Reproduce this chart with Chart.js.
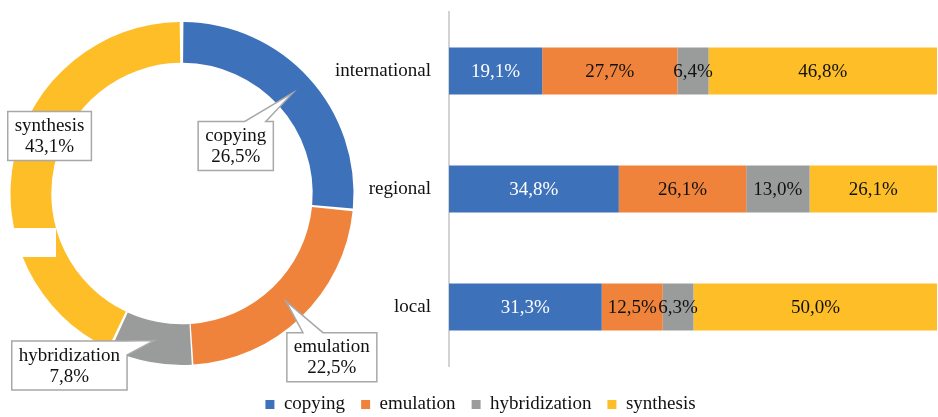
<!DOCTYPE html>
<html><head><meta charset="utf-8">
<script src="https://cdn.jsdelivr.net/npm/chart.js@4.4.0/dist/chart.umd.min.js"></script>
<style>
html,body{margin:0;padding:0;background:#fff;}
#wrap{position:relative;width:938px;height:417px;overflow:hidden;}
#bar{position:absolute;left:0;top:0;}
#pie{position:absolute;left:0;top:0;}
</style></head><body>
<div id="wrap">
<canvas id="bar" width="938" height="417"></canvas>
<canvas id="pie" width="380" height="400"></canvas>
</div>
<script>
// ---- data ----
const strategies = ['copying', 'emulation', 'hybridization', 'synthesis'];
const overallShares = [26.5, 22.5, 7.8, 43.1];
const levels = ['international', 'regional', 'local'];
const copyingByLevel = [19.1, 34.8, 31.3];
const emulationByLevel = [27.7, 26.1, 12.5];
const hybridizationByLevel = [6.4, 13.0, 6.3];
const synthesisByLevel = [46.8, 26.1, 50.0];
const valueAxisMax = 100;

// ---- style ----
const colors = ['#3D72BA', '#F0833C', '#9A9C9C', '#FDBE28'];
const barLabelColors = ['#ffffff', '#111111', '#111111', '#111111'];
const serif = "'Liberation Serif','Times New Roman',serif";
const fsize = 19;
const fmt = v => v.toFixed(1).replace('.', ',') + '%';

const seriesByLevel = [copyingByLevel, emulationByLevel, hybridizationByLevel, synthesisByLevel];

const barLabels = {
  id: 'barLabels',
  afterDatasetsDraw(chart) {
    const ctx = chart.ctx;
    ctx.save();
    ctx.font = fsize + 'px ' + serif;
    ctx.textAlign = 'center';
    ctx.textBaseline = 'middle';
    chart.data.datasets.forEach((ds, i) => {
      const meta = chart.getDatasetMeta(i);
      meta.data.forEach((el, j) => {
        const p = el.getProps(['x', 'base', 'y'], true);
        ctx.fillStyle = barLabelColors[i];
        ctx.fillText(fmt(ds.data[j]), (p.x + p.base) / 2, p.y + 1);
      });
    });
    ctx.restore();
  }
};

new Chart(document.getElementById('bar'), {
  type: 'bar',
  data: {
    labels: levels,
    datasets: seriesByLevel.map((d, i) => ({
      label: strategies[i], data: d, backgroundColor: colors[i], borderWidth: 0,
      barPercentage: 0.4, categoryPercentage: 1
    }))
  },
  options: {
    indexAxis: 'y', responsive: false, animation: false,
    layout: { padding: { left: 24, right: 1, top: 12, bottom: -7 } },
    scales: {
      x: {
        stacked: true, min: 0, max: valueAxisMax, display: true,
        grid: { display: false }, border: { display: false }, ticks: { display: false },
        afterFit(s) { s.height = 13; s.paddingLeft = 0; s.paddingRight = 0; }
      },
      y: {
        stacked: true, grid: { display: false },
        border: { color: '#D4D4D4', width: 2 },
        ticks: { color: '#111', font: { family: serif, size: fsize }, padding: 10 },
        afterFit(s) { s.width = 425; s.paddingTop = 0; s.paddingBottom = 0; }
      }
    },
    plugins: {
      legend: {
        position: 'bottom',
        labels: { boxWidth: 9, boxHeight: 9, padding: 16, color: '#111', font: { family: serif, size: fsize } }
      },
      tooltip: { enabled: false }
    }
  },
  plugins: [barLabels]
});

// ---- doughnut ----
const calloutStyle = [
  { dx: -57, dy: 53, side: 'top', frac: 0.76, base: 21 },
  { dx: 46, dy: 56, side: 'top', frac: 0.29, base: 20 },
  { dx: -85, dy: 25, side: 'right', frac: 0.12, base: 16 },
  { dx: 13.7, dy: -25.5, side: 'none' }
];
const ringGap = { x0: -173, x1: -126, y0: 34.5, y1: 63.5 }; // white mask relative to centre

function calloutPath(ctx, bx, by, w, h, tip, st) {
  ctx.beginPath();
  ctx.moveTo(bx, by);
  if (st.side === 'top') {
    const c = bx + w * st.frac;
    ctx.lineTo(c - st.base / 2, by); ctx.lineTo(tip.x, tip.y); ctx.lineTo(c + st.base / 2, by);
  }
  ctx.lineTo(bx + w, by);
  if (st.side === 'right') {
    const c = by + h * st.frac;
    ctx.lineTo(bx + w, Math.max(by, c - st.base / 2)); ctx.lineTo(tip.x, tip.y); ctx.lineTo(bx + w, c + st.base / 2);
  }
  ctx.lineTo(bx + w, by + h);
  ctx.lineTo(bx, by + h);
  ctx.closePath();
}

const gapPlugin = {
  id: 'gapPlugin',
  afterDatasetsDraw(chart) {
    const el = chart.getDatasetMeta(0).data[0];
    const { x, y } = el.getProps(['x', 'y'], true);
    const ctx = chart.ctx;
    ctx.save();
    ctx.fillStyle = '#ffffff';
    ctx.fillRect(x + ringGap.x0, y + ringGap.y0, ringGap.x1 - ringGap.x0, ringGap.y1 - ringGap.y0);
    ctx.restore();
  }
};

const callouts = {
  id: 'callouts',
  afterDatasetsDraw(chart) {
    const ctx = chart.ctx;
    const ds = chart.data.datasets[0];
    ctx.save();
    ctx.font = fsize + 'px ' + serif;
    chart.getDatasetMeta(0).data.forEach((el, i) => {
      const p = el.getProps(['x', 'y', 'startAngle', 'endAngle', 'innerRadius', 'outerRadius'], true);
      const mid = (p.startAngle + p.endAngle) / 2;
      const r = (p.innerRadius + p.outerRadius) / 2;
      const tip = { x: p.x + Math.cos(mid) * r, y: p.y + Math.sin(mid) * r };
      const st = calloutStyle[i];
      const l1 = chart.data.labels[i], l2 = fmt(ds.data[i]);
      const w = Math.max(ctx.measureText(l1).width, ctx.measureText(l2).width) + 14;
      const h = 49;
      const cx = tip.x + st.dx, cy = tip.y + st.dy;
      const bx = cx - w / 2, by = cy - h / 2;
      calloutPath(ctx, bx, by, w, h, tip, st);
      ctx.fillStyle = '#ffffff';
      ctx.fill();
      ctx.strokeStyle = '#A8A8A8';
      ctx.lineWidth = 1.5;
      ctx.stroke();
      ctx.fillStyle = '#111';
      ctx.textAlign = 'center';
      ctx.textBaseline = 'middle';
      ctx.fillText(l1, cx, cy - 10);
      ctx.fillText(l2, cx, cy + 11);
    });
    ctx.restore();
  }
};

new Chart(document.getElementById('pie'), {
  type: 'doughnut',
  data: {
    labels: strategies,
    datasets: [{ data: overallShares, backgroundColor: colors, borderWidth: 0, spacing: 3 }]
  },
  options: {
    responsive: false, animation: false,
    radius: 170, cutout: '76%',
    layout: { padding: { left: 0, right: 16, top: 0, bottom: 13 } },
    plugins: { legend: { display: false }, tooltip: { enabled: false } }
  },
  plugins: [gapPlugin, callouts]
});
</script>
</body></html>
